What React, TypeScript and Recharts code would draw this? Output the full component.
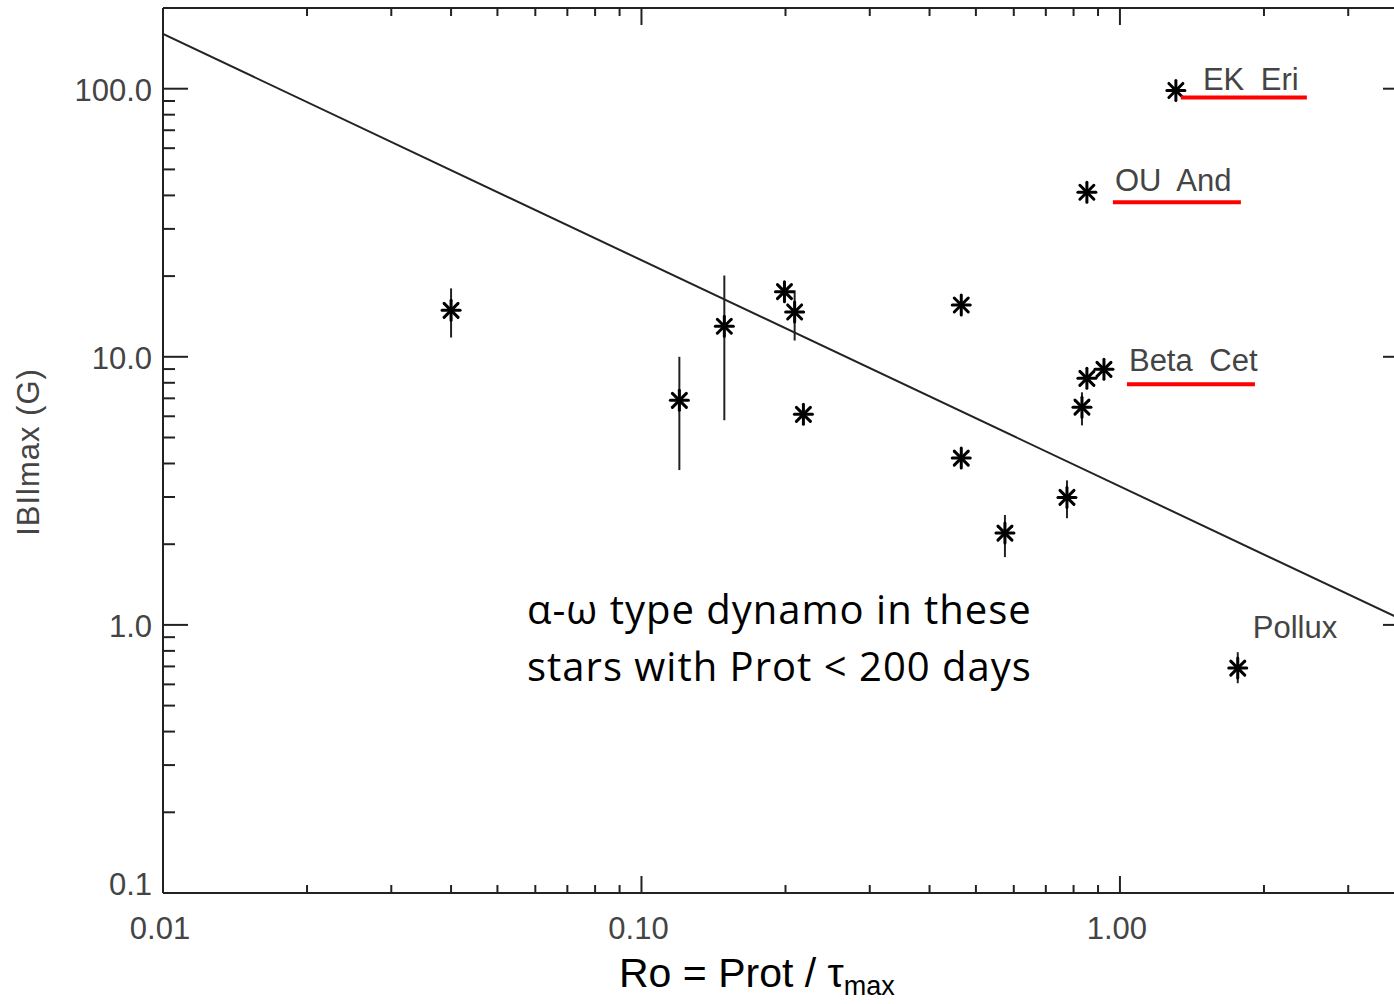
import { ScatterChart, Scatter, XAxis, YAxis, ErrorBar } from 'recharts';

// stars: Rossby number vs max field strength
const roValues = [0.04, 0.12, 0.149, 0.199, 0.209, 0.218, 0.466, 0.466, 0.575, 0.775, 0.833, 0.853, 0.926, 0.853, 1.309, 1.763];
const bmaxValues = [14.9, 6.88, 13.0, 17.5, 14.7, 6.1, 15.6, 4.19, 2.2, 2.99, 6.49, 8.31, 8.98, 41.1, 98.5, 0.69];
const bmaxLow = [11.8, 3.78, 5.8, 17.5, 11.5, 6.1, 15.6, 4.19, 1.79, 2.5, 5.55, 8.31, 8.98, 41.1, 98.5, 0.606];
const bmaxHigh = [18.0, 10.0, 20.1, 17.5, 17.7, 6.1, 15.6, 4.19, 2.57, 3.46, 7.37, 8.31, 8.98, 41.1, 98.5, 0.791];

// power-law fit, read at the two ends of the x range
const fitRo = [0.01, 4];
const fitB = [160, 1.02];

// named stars
const labelNames = ['EK Eri', 'OU And', 'Beta Cet', 'Pollux'];
const labelRo = [1.309, 0.853, 0.926, 1.763];
const labelB = [98.5, 41.1, 8.98, 0.69];

const xMajorTicks = [0.01, 0.1, 1];
const xTickLabels = ['0.01', '0.10', '1.00'];
const xMinorTicks = [0.02, 0.03, 0.04, 0.05, 0.06, 0.07, 0.08, 0.09, 0.2, 0.3, 0.4, 0.5, 0.6, 0.7, 0.8, 0.9, 2, 3];
const yMajorTicks = [0.1, 1, 10, 100];
const yTickLabels = ['0.1', '1.0', '10.0', '100.0'];
const yMinorTicks = [0.2, 0.3, 0.4, 0.5, 0.6, 0.7, 0.8, 0.9, 2, 3, 4, 5, 6, 7, 8, 9, 20, 30, 40, 50, 60, 70, 80, 90];

const stars = roValues.map((ro, i) => ({
  ro,
  b: bmaxValues[i],
  err: [bmaxValues[i] - bmaxLow[i], bmaxHigh[i] - bmaxValues[i]],
}));
const fitData = fitRo.map((ro, i) => ({ ro, b: fitB[i] }));
const labelData = labelNames.map((name, i) => ({ name, ro: labelRo[i], b: labelB[i] }));

const xTicks = [...xMajorTicks, ...xMinorTicks].sort((a, b) => a - b);
const yTicks = [...yMajorTicks, ...yMinorTicks].sort((a, b) => a - b);

const AXIS = '#222';
const LABEL = '#444';
const IDL_FONT = '"Liberation Sans", Arial, sans-serif';

const labelOffsets: Record<string, { dx: number; dy: number; line?: [number, number, number] }> = {
  'EK Eri': { dx: 27, dy: 0, line: [5, 131, 7] },
  'OU And': { dx: 28, dy: -1, line: [26, 154, 10] },
  'Beta Cet': { dx: 25, dy: 2, line: [23, 151, 15] },
  Pollux: { dx: 15, dy: -30 },
};

function BottomTick({ x, y, payload }: any) {
  const i = xMajorTicks.indexOf(payload.value);
  return (
    <g>
      <line x1={x} x2={x} y1={y} y2={y - (i >= 0 ? 17 : 8)} stroke={AXIS} strokeWidth={2} />
      {i >= 0 && (
        <text x={x - 3} y={y + 46} textAnchor="middle" fontFamily={IDL_FONT} fontSize={31} fill={LABEL}>
          {xTickLabels[i]}
        </text>
      )}
    </g>
  );
}

function TopTick({ x, y, payload }: any) {
  const major = xMajorTicks.includes(payload.value);
  return <line x1={x} x2={x} y1={y} y2={y + (major ? 17 : 8)} stroke={AXIS} strokeWidth={2} />;
}

function LeftTick({ x, y, payload }: any) {
  const i = yMajorTicks.indexOf(payload.value);
  // IDL lifts the bottom label so it stays clear of the x axis
  const lift = i === 0 ? -9 : 2;
  return (
    <g>
      <line x1={x} x2={x + (i >= 0 ? 25 : 12)} y1={y} y2={y} stroke={AXIS} strokeWidth={2} />
      {i >= 0 && (
        <text x={x - 11} y={y + lift} textAnchor="end" dominantBaseline="central" fontFamily={IDL_FONT} fontSize={31} fill={LABEL}>
          {yTickLabels[i]}
        </text>
      )}
    </g>
  );
}

function RightTick({ x, y, payload }: any) {
  const major = yMajorTicks.includes(payload.value);
  return <line x1={x} x2={x - (major ? 25 : 12)} y1={y} y2={y} stroke={AXIS} strokeWidth={2} />;
}

function StarMark({ cx, cy }: any) {
  return (
    <g stroke="#000" strokeWidth={3} strokeLinecap="round">
      <line x1={cx} y1={cy - 10} x2={cx} y2={cy + 10} />
      <line x1={cx - 9} y1={cy} x2={cx + 9} y2={cy} />
      <line x1={cx - 7} y1={cy - 7} x2={cx + 7} y2={cy + 7} />
      <line x1={cx - 7} y1={cy + 7} x2={cx + 7} y2={cy - 7} />
    </g>
  );
}

function StarLabel({ cx, cy, payload }: any) {
  const o = labelOffsets[payload.name];
  return (
    <g>
      <text x={cx + o.dx} y={cy + o.dy} fontFamily={IDL_FONT} fontSize={31} fill={LABEL} style={{ wordSpacing: 8 }}>
        {payload.name}
      </text>
      {o.line && (
        <line x1={cx + o.line[0]} x2={cx + o.line[1]} y1={cy + o.line[2]} y2={cy + o.line[2]} stroke="#ff0000" strokeWidth={4} />
      )}
    </g>
  );
}

export default function App() {
  return (
    <div style={{ position: 'absolute', left: 0, top: 0, width: 1394, height: 1004, overflow: 'hidden', background: '#fff' }}>
      <ScatterChart width={1430} height={1004} margin={{ top: 0, right: 0, bottom: 0, left: 0 }}>
        <XAxis
          dataKey="ro"
          type="number"
          scale="log"
          domain={[0.01, 4]}
          allowDataOverflow
          ticks={xTicks}
          interval={0}
          height={111}
          tickSize={0}
          tickMargin={0}
          tickLine={false}
          axisLine={{ stroke: AXIS, strokeWidth: 2 }}
          tick={BottomTick}
        />
        <XAxis
          xAxisId="top"
          orientation="top"
          dataKey="ro"
          type="number"
          scale="log"
          domain={[0.01, 4]}
          allowDataOverflow
          ticks={xTicks}
          interval={0}
          height={8}
          tickSize={0}
          tickMargin={0}
          tickLine={false}
          axisLine={{ stroke: AXIS, strokeWidth: 2 }}
          tick={TopTick}
        />
        <YAxis
          dataKey="b"
          type="number"
          scale="log"
          domain={[0.1, 200]}
          allowDataOverflow
          ticks={yTicks}
          interval={0}
          width={163}
          tickSize={0}
          tickMargin={0}
          tickLine={false}
          axisLine={{ stroke: AXIS, strokeWidth: 2 }}
          tick={LeftTick}
        />
        <YAxis
          yAxisId="right"
          orientation="right"
          dataKey="b"
          type="number"
          scale="log"
          domain={[0.1, 200]}
          allowDataOverflow
          ticks={yTicks}
          interval={0}
          width={22}
          tickSize={0}
          tickMargin={0}
          tickLine={false}
          axisLine={{ stroke: AXIS, strokeWidth: 2 }}
          tick={RightTick}
        />
        <Scatter data={fitData} line={{ stroke: AXIS, strokeWidth: 2 }} shape={() => <g />} isAnimationActive={false} />
        <Scatter data={stars} shape={StarMark} isAnimationActive={false}>
          <ErrorBar dataKey="err" direction="y" width={0} stroke={AXIS} strokeWidth={2} isAnimationActive={false} />
        </Scatter>
        <Scatter data={labelData} shape={StarLabel} isAnimationActive={false} />
        <text
          x={28}
          y={452}
          transform="rotate(-90 28 452)"
          textAnchor="middle"
          dominantBaseline="central"
          fontFamily={IDL_FONT}
          fontSize={31}
          fill={LABEL}
          style={{ letterSpacing: 1 }}
        >
          IBIlmax (G)
        </text>
        <text x={619} y={987} fontFamily={IDL_FONT} fontSize={41} fill="#000">
          Ro = Prot / τ<tspan fontSize={27} dy={8}>max</tspan>
        </text>
        <text fontFamily='"Open Sans", sans-serif' fontSize={40} fill="#000" style={{ letterSpacing: 1 }}>
          <tspan x={527} y={624}>α-ω type dynamo in these</tspan>
          <tspan x={527} y={681}>stars with Prot &lt; 200 days</tspan>
        </text>
      </ScatterChart>
    </div>
  );
}
